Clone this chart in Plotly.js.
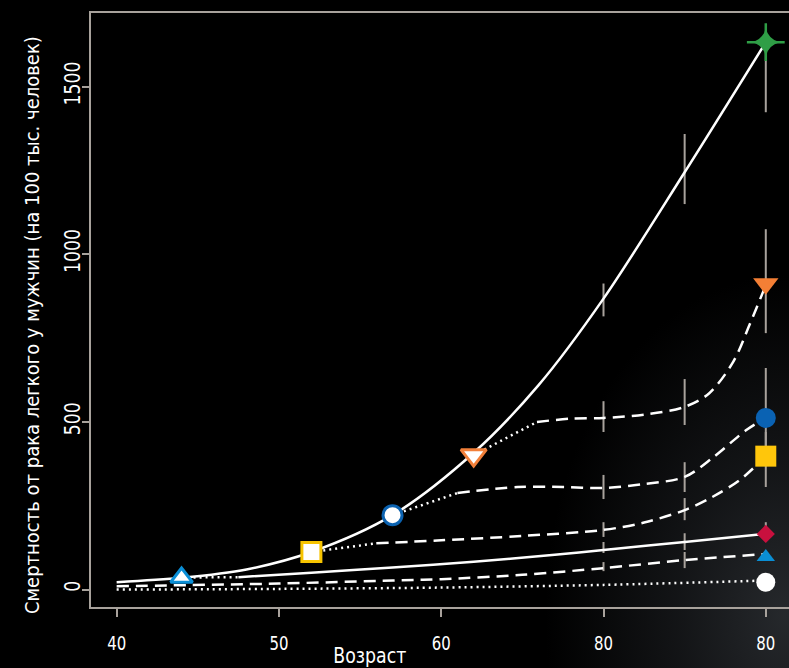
<!DOCTYPE html>
<html>
<head>
<meta charset="utf-8">
<script src="https://cdn.plot.ly/plotly-3.0.1.min.js"></script>
<style>
html,body{margin:0;padding:0;width:789px;height:668px;overflow:hidden;background:#000;}
#bg{position:absolute;left:0;top:0;width:789px;height:668px;
background:radial-gradient(ellipse 240px 340px at 785px 615px, rgba(42,45,49,0.9) 0%, rgba(27,29,32,0.7) 45%, rgba(0,0,0,0) 100%), #000;}
#chart{position:absolute;left:0;top:0;width:789px;height:668px;}
</style>
</head>
<body>
<div id="bg"></div>
<div id="chart"></div>
<script>
// ---- axis ticks ----
const ageTickVals = [40, 50, 60, 70, 80];
const ageTickText = ['40', '50', '60', '80', '80'];
const rateTickVals = [0, 500, 1000, 1500];

// ---- continuing smokers (solid, green star) ----
const smokeAge  = [40, 44, 48, 52, 57, 62, 66, 70, 75, 80];
const smokeRate = [22, 35, 60, 112, 222, 408, 610, 868, 1245, 1633];

// ---- quit ~44 (dotted then solid, red diamond) ----
const quit44DotAge  = [44, 47.5];
const quit44DotRate = [36, 37];
const quit44Age  = [47.5, 52, 57, 62, 67, 70, 75, 80];
const quit44Rate = [37, 50, 66, 83, 104, 118, 142, 166];

// ---- long-ago quitters (dashed, blue triangle) ----
const lowDashAge  = [40, 50, 57, 60, 65, 70, 75, 80];
const lowDashRate = [10, 18, 27, 31, 44, 64, 88, 106];

// ---- never smokers (dotted, white circle) ----
const neverAge  = [40, 50, 60, 70, 80];
const neverRate = [0, 2, 6, 14, 27];

// ---- quit 52 (yellow square) ----
const quit52DotAge  = [52, 56];
const quit52DotRate = [112, 138];
const quit52Age  = [56, 60, 65, 70, 72.5, 75, 76.7, 78.4, 80];
const quit52Rate = [138, 147, 160, 178, 200, 237, 276, 327, 398];

// ---- quit 57 (blue circle) ----
const quit57DotAge  = [57, 61];
const quit57DotRate = [222, 288];
const quit57Age  = [61, 64.7, 67.5, 70, 72.5, 75, 76.8, 78.8, 80];
const quit57Rate = [288, 306, 306, 303, 315, 336, 396, 476, 512];

// ---- quit 62 (orange triangle) ----
const quit62DotAge  = [62, 65.9];
const quit62DotRate = [401, 500];
const quit62Age  = [65.9, 68, 70, 72.5, 75, 76.5, 78, 79, 80];
const quit62Rate = [500, 510, 512, 522, 545, 585, 680, 790, 908];

// ---- quitting-point (hollow) markers ----
const hollowAge  = [44, 52, 57, 62];
const hollowRate = [36, 112, 222, 401];
const hollowSymbols = ['triangle-up', 'square', 'circle', 'triangle-down'];
const hollowColors  = ['#0a8ed6', '#f7c400', '#0b62b0', '#f2803a'];

// ---- end (age 80) markers ----
const endAge  = [80, 80, 80, 80, 80, 80, 80];
const endRate = [1633, 912, 512, 398, 166, 97, 22];
const endSymbols = ['star-diamond', 'triangle-down', 'circle', 'square', 'diamond', 'triangle-up', 'circle'];
const endColors  = ['#2f9e46', '#f47f35', '#0a62b3', '#ffc60b', '#c8103e', '#0a8ed4', '#ffffff'];

// ---- confidence bars ----
const barAge = [70, 75, 80];
const smokeBarLo  = [815, 1150, 1424];
const smokeBarHi  = [913, 1359, 1650];
const quit62BarLo = [470, 491, 765];
const quit62BarHi = [562, 628, 1075];
const quit57BarLo = [270, 291, 400];
const quit57BarHi = [342, 380, 661];
const quit52BarLo = [157, 207, 306];
const quit52BarHi = [201, 273, 470];
const quit44BarLo = [109, 118, 150];
const quit44BarHi = [142, 168, 201];
const lowDashBarLo = [55, 64, 90];
const lowDashBarHi = [82, 112, 105];

const FONT = '"DejaVu Sans Condensed", "DejaVu Sans", sans-serif';
const GRAY = '#a8a29c';
const DASH = '12px,7px';
const DOT = '2px,4px';

const traces = [];

function bars(lo, hi) {
  const mid = lo.map((v, i) => (v + hi[i]) / 2);
  const half = lo.map((v, i) => (hi[i] - v) / 2);
  traces.push({
    type: 'scatter', mode: 'markers', x: barAge, y: mid,
    marker: {size: 1, color: 'rgba(0,0,0,0)', opacity: 1},
    error_y: {type: 'data', array: half, visible: true, color: GRAY, thickness: 2, width: 0},
    hoverinfo: 'skip', showlegend: false
  });
}
[[smokeBarLo, smokeBarHi], [quit62BarLo, quit62BarHi], [quit57BarLo, quit57BarHi],
 [quit52BarLo, quit52BarHi], [quit44BarLo, quit44BarHi], [lowDashBarLo, lowDashBarHi]]
  .forEach(p => bars(p[0], p[1]));

function line(x, y, dash) {
  traces.push({
    type: 'scatter', mode: 'lines', x: x, y: y,
    line: {color: '#ffffff', width: 2.5, dash: dash, shape: 'spline', smoothing: 0.9},
    hoverinfo: 'skip', showlegend: false
  });
}
line(neverAge, neverRate, DOT);
line(lowDashAge, lowDashRate, DASH);
line(quit44DotAge, quit44DotRate, DOT);
line(quit44Age, quit44Rate, 'solid');
line(quit52DotAge, quit52DotRate, DOT);
line(quit52Age, quit52Rate, DASH);
line(quit57DotAge, quit57DotRate, DOT);
line(quit57Age, quit57Rate, DASH);
line(quit62DotAge, quit62DotRate, DOT);
line(quit62Age, quit62Rate, DASH);
line(smokeAge, smokeRate, 'solid');

traces.push({
  type: 'scatter', mode: 'markers', x: hollowAge, y: hollowRate,
  marker: {symbol: hollowSymbols, size: [19, 19, 19, 22], color: '#ffffff', opacity: 1,
           line: {color: hollowColors, width: 3}},
  hoverinfo: 'skip', showlegend: false
});

// thin arms of the green star
traces.push({
  type: 'scatter', mode: 'markers', x: [endAge[0]], y: [endRate[0]],
  marker: {symbol: 'cross-thin', size: 27, opacity: 1, color: endColors[0],
           line: {color: endColors[0], width: 2.5}},
  hoverinfo: 'skip', showlegend: false, cliponaxis: false
});

traces.push({
  type: 'scatter', mode: 'markers', x: endAge, y: endRate,
  marker: {symbol: endSymbols, size: [20, 22, 20, 21, 14, 16, 19], color: endColors, opacity: 1,
           line: {width: 0}},
  hoverinfo: 'skip', showlegend: false, cliponaxis: false
});

const layout = {
  width: 789, height: 668,
  margin: {l: 91, r: 0, t: 13, b: 61},
  paper_bgcolor: 'rgba(0,0,0,0)', plot_bgcolor: 'rgba(0,0,0,0)',
  font: {family: FONT, color: '#ffffff'},
  showlegend: false,
  xaxis: {
    range: [38.42, 81.43], tickvals: ageTickVals, ticktext: ageTickText,
    ticks: 'outside', ticklen: 8, tickwidth: 2, tickcolor: GRAY,
    showline: true, linecolor: GRAY, linewidth: 2, mirror: true,
    showgrid: false, zeroline: false, ticklabelstandoff: 9,
    tickfont: {family: FONT, size: 20, color: '#ffffff'}
  },
  yaxis: {
    range: [-52, 1720], tickvals: rateTickVals, tickangle: -90,
    ticks: 'outside', ticklen: 7, tickwidth: 2, tickcolor: GRAY,
    showline: true, linecolor: GRAY, linewidth: 2, mirror: false,
    showgrid: false, zeroline: false, ticklabelstandoff: -7,
    tickfont: {family: FONT, size: 22, color: '#ffffff'}
  },
  annotations: [
    {text: 'Возраст', xref: 'paper', yref: 'paper', x: 0.3997, y: -0.0825,
     xanchor: 'center', yanchor: 'middle', showarrow: false,
     font: {family: FONT, size: 21, color: '#ffffff'}},
    {text: 'Смертность от рака легкого у мужчин (на 100 тыс. человек)',
     xref: 'paper', yref: 'paper', x: -0.0845, y: 0.4747, textangle: -90,
     xanchor: 'center', yanchor: 'middle', showarrow: false,
     font: {family: FONT, size: 20, color: '#ffffff'}}
  ]
};

function condense(el, len) {
  el.setAttribute('textLength', len.toFixed(1));
  el.setAttribute('lengthAdjust', 'spacingAndGlyphs');
}

Plotly.newPlot('chart', traces, layout, {staticPlot: true, displayModeBar: false}).then(function () {
  document.querySelectorAll('.xtick text').forEach(t => condense(t, 9.5 * t.textContent.length));
  document.querySelectorAll('.ytick text').forEach(t => condense(t, 11 * t.textContent.length));
  document.querySelectorAll('.annotation-text').forEach(t => {
    if (t.textContent.indexOf('Возраст') === 0) condense(t, 73);
  });
});
</script>
</body>
</html>
